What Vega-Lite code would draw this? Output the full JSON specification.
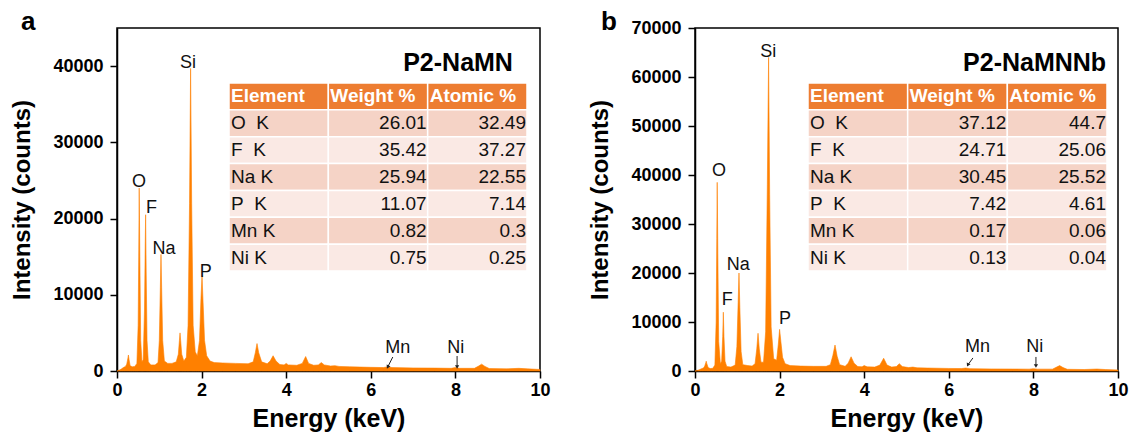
{
  "$schema": "https://vega.github.io/schema/vega-lite/v6.json",
  "padding": {"left": 10, "top": 8, "right": 10, "bottom": 4},
  "spacing": 37,
  "datasets": {
    "specA": [
      {"e":0.00,"c":0},{"e":0.05,"c":100},{"e":0.10,"c":250},{"e":0.15,"c":450},{"e":0.20,"c":600},
      {"e":0.23,"c":900},{"e":0.255,"c":1600},{"e":0.27,"c":2100},{"e":0.285,"c":1500},{"e":0.31,"c":700},
      {"e":0.36,"c":550},{"e":0.42,"c":600},{"e":0.47,"c":1000},{"e":0.50,"c":6000},{"e":0.515,"c":16000},
      {"e":0.525,"c":24000},{"e":0.54,"c":15000},{"e":0.56,"c":4000},{"e":0.59,"c":1200},{"e":0.62,"c":1500},
      {"e":0.65,"c":8000},{"e":0.668,"c":17000},{"e":0.677,"c":20500},{"e":0.69,"c":13000},{"e":0.71,"c":4000},
      {"e":0.74,"c":1200},{"e":0.80,"c":800},{"e":0.90,"c":800},{"e":0.97,"c":1100},{"e":1.00,"c":4000},
      {"e":1.025,"c":11000},{"e":1.04,"c":15300},{"e":1.055,"c":11000},{"e":1.08,"c":4000},{"e":1.12,"c":1300},
      {"e":1.20,"c":1000},{"e":1.30,"c":1000},{"e":1.40,"c":1200},{"e":1.45,"c":2200},{"e":1.475,"c":4000},
      {"e":1.49,"c":5000},{"e":1.505,"c":4000},{"e":1.53,"c":2200},{"e":1.58,"c":1300},{"e":1.64,"c":1800},
      {"e":1.68,"c":6000},{"e":1.715,"c":22000},{"e":1.74,"c":39700},{"e":1.765,"c":22000},{"e":1.80,"c":6000},
      {"e":1.85,"c":2500},{"e":1.90,"c":2000},{"e":1.95,"c":4000},{"e":1.985,"c":9500},{"e":2.01,"c":12500},
      {"e":2.035,"c":9000},{"e":2.07,"c":4000},{"e":2.12,"c":2000},{"e":2.20,"c":1300},{"e":2.30,"c":1100},
      {"e":2.50,"c":1050},{"e":2.80,"c":1000},{"e":3.10,"c":950},{"e":3.22,"c":1200},{"e":3.27,"c":2400},
      {"e":3.31,"c":3600},{"e":3.35,"c":2400},{"e":3.42,"c":1200},{"e":3.55,"c":950},{"e":3.62,"c":1300},
      {"e":3.69,"c":2000},{"e":3.76,"c":1300},{"e":3.85,"c":850},{"e":3.95,"c":800},{"e":4.00,"c":1000},
      {"e":4.05,"c":800},{"e":4.25,"c":750},{"e":4.38,"c":1000},{"e":4.46,"c":1900},{"e":4.53,"c":1000},
      {"e":4.65,"c":750},{"e":4.76,"c":800},{"e":4.83,"c":1100},{"e":4.90,"c":800},{"e":5.05,"c":650},
      {"e":5.15,"c":700},{"e":5.25,"c":600},{"e":5.50,"c":550},{"e":6.00,"c":480},{"e":6.30,"c":450},
      {"e":6.40,"c":550},{"e":6.50,"c":450},{"e":7.00,"c":400},{"e":7.50,"c":380},{"e":7.90,"c":350},
      {"e":8.00,"c":450},{"e":8.10,"c":350},{"e":8.45,"c":350},{"e":8.55,"c":650},{"e":8.62,"c":900},
      {"e":8.70,"c":600},{"e":8.80,"c":320},{"e":9.20,"c":280},{"e":9.50,"c":350},{"e":9.70,"c":280},
      {"e":10.0,"c":200}
    ],
    "specB": [
      {"e":0.00,"c":0},{"e":0.05,"c":100},{"e":0.10,"c":250},{"e":0.15,"c":450},{"e":0.20,"c":600},
      {"e":0.23,"c":1000},{"e":0.255,"c":1700},{"e":0.265,"c":2000},{"e":0.28,"c":1500},{"e":0.31,"c":700},
      {"e":0.36,"c":500},{"e":0.42,"c":550},{"e":0.47,"c":1200},{"e":0.50,"c":10000},{"e":0.515,"c":27000},
      {"e":0.525,"c":38500},{"e":0.54,"c":24000},{"e":0.56,"c":6000},{"e":0.60,"c":1500},{"e":0.63,"c":2000},
      {"e":0.655,"c":7000},{"e":0.67,"c":12000},{"e":0.685,"c":7000},{"e":0.71,"c":2000},{"e":0.75,"c":900},
      {"e":0.85,"c":800},{"e":0.95,"c":1200},{"e":0.99,"c":5000},{"e":1.02,"c":14000},{"e":1.04,"c":20000},
      {"e":1.06,"c":13000},{"e":1.09,"c":4000},{"e":1.13,"c":1300},{"e":1.25,"c":1100},{"e":1.35,"c":1000},
      {"e":1.42,"c":1500},{"e":1.46,"c":4500},{"e":1.49,"c":7700},{"e":1.52,"c":4500},{"e":1.56,"c":1800},
      {"e":1.62,"c":1800},{"e":1.67,"c":8000},{"e":1.71,"c":38000},{"e":1.74,"c":64000},{"e":1.765,"c":36000},
      {"e":1.80,"c":9000},{"e":1.86,"c":2500},{"e":1.93,"c":2200},{"e":1.97,"c":5500},{"e":2.00,"c":8500},
      {"e":2.03,"c":6000},{"e":2.07,"c":2800},{"e":2.13,"c":1500},{"e":2.25,"c":1100},{"e":2.50,"c":1000},
      {"e":2.80,"c":950},{"e":3.10,"c":950},{"e":3.20,"c":1300},{"e":3.26,"c":3200},{"e":3.31,"c":5300},
      {"e":3.36,"c":3000},{"e":3.42,"c":1300},{"e":3.55,"c":950},{"e":3.62,"c":1600},{"e":3.69,"c":2900},
      {"e":3.76,"c":1600},{"e":3.85,"c":900},{"e":3.95,"c":850},{"e":4.00,"c":1100},{"e":4.07,"c":850},
      {"e":4.25,"c":800},{"e":4.37,"c":1200},{"e":4.46,"c":2600},{"e":4.54,"c":1200},{"e":4.65,"c":800},
      {"e":4.76,"c":900},{"e":4.83,"c":1500},{"e":4.90,"c":900},{"e":5.05,"c":700},{"e":5.15,"c":800},
      {"e":5.25,"c":650},{"e":5.50,"c":600},{"e":6.00,"c":520},{"e":6.30,"c":500},{"e":6.40,"c":600},
      {"e":6.50,"c":480},{"e":7.00,"c":420},{"e":7.50,"c":400},{"e":7.90,"c":380},{"e":8.00,"c":480},
      {"e":8.10,"c":380},{"e":8.45,"c":380},{"e":8.55,"c":800},{"e":8.62,"c":1100},{"e":8.70,"c":700},
      {"e":8.80,"c":350},{"e":9.20,"c":300},{"e":9.50,"c":400},{"e":9.70,"c":300},{"e":10.0,"c":200}
    ],
    "lblA": [
      {"t":"O","e":0.52,"c":24120},{"t":"F","e":0.815,"c":20710},{"t":"Na","e":1.11,"c":15340},
      {"t":"Si","e":1.68,"c":39720},{"t":"P","e":2.10,"c":12320},{"t":"Mn","e":6.64,"c":2360},{"t":"Ni","e":8.01,"c":2360}
    ],
    "lblB": [
      {"t":"O","e":0.57,"c":39710},{"t":"F","e":0.76,"c":13510},{"t":"Na","e":1.02,"c":20675},
      {"t":"Si","e":1.73,"c":64070},{"t":"P","e":2.13,"c":9620},{"t":"Mn","e":6.68,"c":3890},{"t":"Ni","e":8.03,"c":3890}
    ],
    "arrA": [
      {"el":"Mn","e":6.52,"c":1835,"e2":6.40,"c2":524},
      {"el":"Ni","e":8.04,"c":1966,"e2":8.04,"c2":524}
    ],
    "arrB": [
      {"el":"Mn","e":6.57,"c":2661,"e2":6.45,"c2":1228},
      {"el":"Ni","e":8.06,"c":2866,"e2":8.06,"c2":1023}
    ],
    "nameA": [{"t":"P2-NaMN","e":9.36,"c":40380}],
    "nameB": [{"t":"P2-NaMNNb","e":9.72,"c":62840}],
    "panA": [{"t":"a","e":-2.27,"c":44740}],
    "panB": [{"t":"b","e":-2.22,"c":69590}],
    "hdr": [{"col":"Element"},{"col":"Weight %"},{"col":"Atomic %"}],
    "tabA": [
      {"Element":"O\u00a0\u00a0K","Weight %":"26.01","Atomic %":"32.49"},
      {"Element":"F\u00a0\u00a0K","Weight %":"35.42","Atomic %":"37.27"},
      {"Element":"Na K","Weight %":"25.94","Atomic %":"22.55"},
      {"Element":"P\u00a0\u00a0K","Weight %":"11.07","Atomic %":"7.14"},
      {"Element":"Mn K","Weight %":"0.82","Atomic %":"0.3"},
      {"Element":"Ni K","Weight %":"0.75","Atomic %":"0.25"}
    ],
    "tabB": [
      {"Element":"O\u00a0\u00a0K","Weight %":"37.12","Atomic %":"44.7"},
      {"Element":"F\u00a0\u00a0K","Weight %":"24.71","Atomic %":"25.06"},
      {"Element":"Na K","Weight %":"30.45","Atomic %":"25.52"},
      {"Element":"P\u00a0\u00a0K","Weight %":"7.42","Atomic %":"4.61"},
      {"Element":"Mn K","Weight %":"0.17","Atomic %":"0.06"},
      {"Element":"Ni K","Weight %":"0.13","Atomic %":"0.04"}
    ]
  },
  "hconcat": [
    {
      "width": 423, "height": 343,
      "resolve": {"scale": {"x": "independent", "y": "independent", "color": "independent"}},
      "layer": [
        {
          "encoding": {
            "x": {"field": "e", "type": "quantitative", "scale": {"domain": [0, 10], "nice": false}, "axis": {"title": "Energy (keV)", "values": [0,2,4,6,8,10], "labelFlush": false}},
            "y": {"field": "c", "type": "quantitative", "scale": {"domain": [0, 45000], "nice": false}, "axis": {"title": "Intensity (counts)", "values": [0,10000,20000,30000,40000], "format": "d", "labelFlush": false}}
          },
          "layer": [
            {"data": {"name": "specA"}, "mark": {"type": "area", "color": "#FF8000", "stroke": "#FF8000", "strokeWidth": 0.6}},
            {"data": {"name": "lblA"}, "mark": {"type": "text", "fontSize": 18, "baseline": "alphabetic", "align": "center", "color": "#111"}, "encoding": {"text": {"field": "t"}}},
            {"data": {"name": "nameA"}, "mark": {"type": "text", "fontSize": 25, "fontWeight": "bold", "baseline": "middle", "align": "right", "color": "#000"}, "encoding": {"text": {"field": "t"}}},
            {"data": {"name": "panA"}, "mark": {"type": "text", "fontSize": 26, "fontWeight": "bold", "baseline": "alphabetic", "align": "left", "color": "#000"}, "encoding": {"text": {"field": "t"}}},
            {"data": {"name": "arrA"}, "mark": {"type": "rule", "color": "#222", "strokeWidth": 1}, "encoding": {"x2": {"field": "e2"}, "y2": {"field": "c2"}}},
            {"data": {"name": "arrA"}, "transform": [{"filter": "datum.el === 'Mn'"}], "mark": {"type": "point", "shape": "triangle-down", "filled": true, "color": "#222", "size": 18, "angle": 27, "opacity": 1}, "encoding": {"x": {"field": "e2", "type": "quantitative"}, "y": {"field": "c2", "type": "quantitative"}}},
            {"data": {"name": "arrA"}, "transform": [{"filter": "datum.el === 'Ni'"}], "mark": {"type": "point", "shape": "triangle-down", "filled": true, "color": "#222", "size": 18, "opacity": 1}, "encoding": {"x": {"field": "e2", "type": "quantitative"}, "y": {"field": "c2", "type": "quantitative"}}}
          ]
        },
        {
          "encoding": {
            "x": {"type": "nominal", "scale": {"type": "band", "domain": ["Element","Weight %","Atomic %"], "range": [112, 410], "paddingInner": 0, "paddingOuter": 0}, "axis": null},
            "y": {"type": "nominal", "scale": {"type": "band", "domain": ["hdr","O\u00a0\u00a0K","F\u00a0\u00a0K","Na K","P\u00a0\u00a0K","Mn K","Ni K"], "range": [55, 243], "paddingInner": 0, "paddingOuter": 0}, "axis": null}
          },
          "layer": [
            {"data": {"name": "hdr"}, "mark": {"type": "rect", "fill": "#ED7D31", "stroke": "#fff", "strokeWidth": 1.5}, "encoding": {"x": {"field": "col"}, "y": {"datum": "hdr"}}},
            {"data": {"name": "hdr"}, "mark": {"type": "text", "align": "left", "baseline": "middle", "dx": 2, "fontSize": 19, "fontWeight": "bold", "color": "#fff"}, "encoding": {"x": {"field": "col", "bandPosition": 0}, "y": {"datum": "hdr", "bandPosition": 0.5}, "text": {"field": "col"}}},
            {"data": {"name": "tabA"}, "transform": [{"fold": ["Element","Weight %","Atomic %"], "as": ["col","val"]}], "mark": {"type": "rect", "stroke": "#fff", "strokeWidth": 1.5}, "encoding": {"x": {"field": "col"}, "y": {"field": "Element"}, "fill": {"field": "Element", "type": "nominal", "scale": {"domain": ["O\u00a0\u00a0K","F\u00a0\u00a0K","Na K","P\u00a0\u00a0K","Mn K","Ni K"], "range": ["#F5D3C6","#FAE9E4","#F5D3C6","#FAE9E4","#F5D3C6","#FAE9E4"]}, "legend": null}}},
            {"data": {"name": "tabA"}, "mark": {"type": "text", "align": "left", "baseline": "middle", "dx": 2, "fontSize": 19, "color": "#111"}, "encoding": {"x": {"datum": "Element", "bandPosition": 0}, "y": {"field": "Element", "bandPosition": 0.5}, "text": {"field": "Element"}}},
            {"data": {"name": "tabA"}, "transform": [{"fold": ["Weight %","Atomic %"], "as": ["col","val"]}], "mark": {"type": "text", "align": "right", "baseline": "middle", "dx": -1, "fontSize": 19, "color": "#111"}, "encoding": {"x": {"field": "col", "bandPosition": 1}, "y": {"field": "Element", "bandPosition": 0.5}, "text": {"field": "val"}}}
          ]
        }
      ]
    },
    {
      "width": 423, "height": 343,
      "resolve": {"scale": {"x": "independent", "y": "independent", "color": "independent"}},
      "layer": [
        {
          "encoding": {
            "x": {"field": "e", "type": "quantitative", "scale": {"domain": [0, 10], "nice": false}, "axis": {"title": "Energy (keV)", "values": [0,2,4,6,8,10], "labelFlush": false}},
            "y": {"field": "c", "type": "quantitative", "scale": {"domain": [0, 70000], "nice": false}, "axis": {"title": "Intensity (counts)", "values": [0,10000,20000,30000,40000,50000,60000,70000], "format": "d", "labelFlush": false}}
          },
          "layer": [
            {"data": {"name": "specB"}, "mark": {"type": "area", "color": "#FF8000", "stroke": "#FF8000", "strokeWidth": 0.6}},
            {"data": {"name": "lblB"}, "mark": {"type": "text", "fontSize": 18, "baseline": "alphabetic", "align": "center", "color": "#111"}, "encoding": {"text": {"field": "t"}}},
            {"data": {"name": "nameB"}, "mark": {"type": "text", "fontSize": 25, "fontWeight": "bold", "baseline": "middle", "align": "right", "color": "#000"}, "encoding": {"text": {"field": "t"}}},
            {"data": {"name": "panB"}, "mark": {"type": "text", "fontSize": 26, "fontWeight": "bold", "baseline": "alphabetic", "align": "left", "color": "#000"}, "encoding": {"text": {"field": "t"}}},
            {"data": {"name": "arrB"}, "mark": {"type": "rule", "color": "#222", "strokeWidth": 1}, "encoding": {"x2": {"field": "e2"}, "y2": {"field": "c2"}}},
            {"data": {"name": "arrB"}, "transform": [{"filter": "datum.el === 'Mn'"}], "mark": {"type": "point", "shape": "triangle-down", "filled": true, "color": "#222", "size": 18, "angle": 27, "opacity": 1}, "encoding": {"x": {"field": "e2", "type": "quantitative"}, "y": {"field": "c2", "type": "quantitative"}}},
            {"data": {"name": "arrB"}, "transform": [{"filter": "datum.el === 'Ni'"}], "mark": {"type": "point", "shape": "triangle-down", "filled": true, "color": "#222", "size": 18, "opacity": 1}, "encoding": {"x": {"field": "e2", "type": "quantitative"}, "y": {"field": "c2", "type": "quantitative"}}}
          ]
        },
        {
          "encoding": {
            "x": {"type": "nominal", "scale": {"type": "band", "domain": ["Element","Weight %","Atomic %"], "range": [113, 412], "paddingInner": 0, "paddingOuter": 0}, "axis": null},
            "y": {"type": "nominal", "scale": {"type": "band", "domain": ["hdr","O\u00a0\u00a0K","F\u00a0\u00a0K","Na K","P\u00a0\u00a0K","Mn K","Ni K"], "range": [55, 243], "paddingInner": 0, "paddingOuter": 0}, "axis": null}
          },
          "layer": [
            {"data": {"name": "hdr"}, "mark": {"type": "rect", "fill": "#ED7D31", "stroke": "#fff", "strokeWidth": 1.5}, "encoding": {"x": {"field": "col"}, "y": {"datum": "hdr"}}},
            {"data": {"name": "hdr"}, "mark": {"type": "text", "align": "left", "baseline": "middle", "dx": 2, "fontSize": 19, "fontWeight": "bold", "color": "#fff"}, "encoding": {"x": {"field": "col", "bandPosition": 0}, "y": {"datum": "hdr", "bandPosition": 0.5}, "text": {"field": "col"}}},
            {"data": {"name": "tabB"}, "transform": [{"fold": ["Element","Weight %","Atomic %"], "as": ["col","val"]}], "mark": {"type": "rect", "stroke": "#fff", "strokeWidth": 1.5}, "encoding": {"x": {"field": "col"}, "y": {"field": "Element"}, "fill": {"field": "Element", "type": "nominal", "scale": {"domain": ["O\u00a0\u00a0K","F\u00a0\u00a0K","Na K","P\u00a0\u00a0K","Mn K","Ni K"], "range": ["#F5D3C6","#FAE9E4","#F5D3C6","#FAE9E4","#F5D3C6","#FAE9E4"]}, "legend": null}}},
            {"data": {"name": "tabB"}, "mark": {"type": "text", "align": "left", "baseline": "middle", "dx": 2, "fontSize": 19, "color": "#111"}, "encoding": {"x": {"datum": "Element", "bandPosition": 0}, "y": {"field": "Element", "bandPosition": 0.5}, "text": {"field": "Element"}}},
            {"data": {"name": "tabB"}, "transform": [{"fold": ["Weight %","Atomic %"], "as": ["col","val"]}], "mark": {"type": "text", "align": "right", "baseline": "middle", "dx": -1, "fontSize": 19, "color": "#111"}, "encoding": {"x": {"field": "col", "bandPosition": 1}, "y": {"field": "Element", "bandPosition": 0.5}, "text": {"field": "val"}}}
          ]
        }
      ]
    }
  ],
  "config": {
    "font": "Liberation Sans",
    "background": "#ffffff",
    "view": {"stroke": "#000", "strokeWidth": 1.5},
    "axis": {"grid": false, "domainColor": "#000", "domainWidth": 1.5, "tickColor": "#000", "tickWidth": 1.5, "tickSize": 7, "labelFont": "Liberation Sans", "labelFontSize": 18, "labelFontWeight": "bold", "labelColor": "#000", "titleFont": "Liberation Sans", "titleFontSize": 24, "titleFontWeight": "bold", "titleColor": "#000"},
    "axisX": {"labelPadding": 3, "titlePadding": 7, "titleFontSize": 25},
    "axisY": {"labelPadding": 7, "titlePadding": 18}
  }
}
